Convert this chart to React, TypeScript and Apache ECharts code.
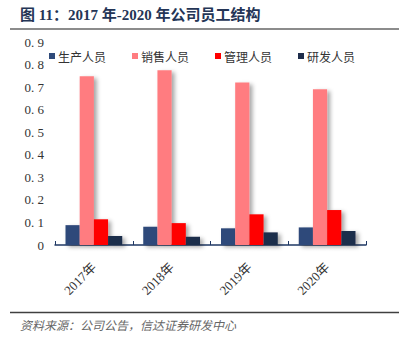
import React, { useEffect, useRef } from "react";
import * as echarts from "echarts";

const categories = ["2017年", "2018年", "2019年", "2020年"];
const seriesNames = ["生产人员", "销售人员", "管理人员", "研发人员"];
const production = [0.088, 0.081, 0.074, 0.078];
const sales = [0.748, 0.775, 0.72, 0.69];
const management = [0.114, 0.097, 0.136, 0.155];
const rnd = [0.04, 0.037, 0.056, 0.062];
const yTicks = [0, 0.1, 0.2, 0.3, 0.4, 0.5, 0.6, 0.7, 0.8, 0.9];
const colors = ["#2F4A7A", "#FF7C80", "#FF0000", "#1E2D4B"];

const title = "图 11：2017 年-2020 年公司员工结构";
const source = "资料来源：公司公告，信达证券研发中心";

export default function App() {
  const ref = useRef<HTMLDivElement>(null);
  useEffect(() => {
    if (!ref.current) return;
    const chart = echarts.init(ref.current, undefined, { renderer: "svg" });
    const values = [production, sales, management, rnd];
    chart.setOption({
      animation: false,
      color: colors,
      grid: { left: 55, right: 33, top: 42, bottom: 97, containLabel: false },
      legend: {
        top: 45,
        left: 44,
        itemWidth: 6,
        itemHeight: 6,
        itemGap: 26,
        icon: "rect",
        data: seriesNames,
        textStyle: { fontSize: 12, color: "#333", fontFamily: "Noto Sans CJK SC", padding: [0, 0, 0, -2] },
      },
      xAxis: {
        type: "category",
        data: categories,
        axisLine: { lineStyle: { color: "#1F3864", width: 1.5 } },
        axisTick: { show: true, inside: true, length: 4, lineStyle: { color: "#1F3864" } },
        axisLabel: {
          rotate: 45,
          fontSize: 13,
          color: "#333",
          fontFamily: "Liberation Serif, Noto Sans CJK SC",
          margin: 20,
        },
      },
      yAxis: {
        type: "value",
        min: yTicks[0],
        max: yTicks[yTicks.length - 1],
        interval: 0.1,
        splitLine: { show: false },
        axisLine: { show: false },
        axisTick: { show: false },
        axisLabel: {
          fontSize: 13,
          color: "#333",
          fontFamily: "Liberation Serif",
          margin: 11,
          formatter: (v: number) => (v === 0 ? "0" : v.toFixed(1).replace(".", ". ")),
        },
      },
      series: seriesNames.map((name, i) => ({
        name,
        type: "bar",
        data: values[i],
        barGap: "0%",
        barCategoryGap: "27%",
        itemStyle: {
          color: colors[i],
          shadowColor: "rgba(0,0,0,0.35)",
          shadowBlur: 4,
          shadowOffsetX: 3,
          shadowOffsetY: 2,
        },
      })),
      graphic: [
        {
          type: "text",
          left: 20,
          top: 7,
          style: {
            text: title,
            fontSize: 15,
            fontWeight: "bold",
            fill: "#243556",
            fontFamily: "Liberation Serif, Noto Sans CJK SC",
          },
        },
        {
          type: "line",
          shape: { x1: 10, y1: 29, x2: 399, y2: 29 },
          style: { stroke: "#8C8C8C", lineWidth: 2 },
        },
        {
          type: "line",
          shape: { x1: 10, y1: 312.5, x2: 399, y2: 312.5 },
          style: { stroke: "#404040", lineWidth: 1.5 },
        },
        {
          type: "text",
          left: 20,
          top: 318,
          style: {
            text: source,
            fontSize: 12,
            fontStyle: "italic",
            fill: "#666",
            fontFamily: "Noto Sans CJK SC",
          },
        },
      ],
    });
    return () => chart.dispose();
  }, []);
  return (
    <div
      ref={ref}
      style={{ position: "fixed", left: 0, top: 0, width: 399, height: 342, background: "#fff" }}
    />
  );
}
